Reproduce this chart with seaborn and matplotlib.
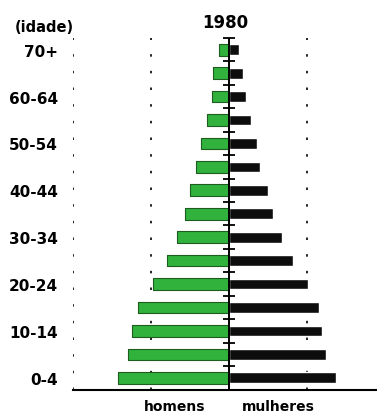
import numpy as np
import pandas as pd
import matplotlib
matplotlib.use("Agg")
import matplotlib.pyplot as plt
import seaborn as sns

# faixas etarias (de cima para baixo)
ages = ["70+", "65-69", "60-64", "55-59", "50-54", "45-49", "40-44", "35-39",
        "30-34", "25-29", "20-24", "15-19", "10-14", "5-9", "0-4"]
# % da populacao, 1980
homens = [0.65, 1.0, 1.1, 1.4, 1.8, 2.1, 2.5, 2.8, 3.3, 4.0, 4.9, 5.8, 6.2, 6.5, 7.1]
mulheres = [0.65, 0.9, 1.1, 1.4, 1.8, 2.0, 2.5, 2.8, 3.4, 4.1, 5.1, 5.8, 6.0, 6.2, 6.9]
xticks = [-10, -5, 0, 5]
year = "1980"

df = pd.DataFrame({"idade": ages, "homens": homens, "mulheres": mulheres})
df["homens_neg"] = -df["homens"]

sns.set_style("white")
plt.rcParams["font.family"] = ["DejaVu Sans"]
plt.rcParams["text.color"] = "black"
plt.rcParams["axes.labelcolor"] = "black"
plt.rcParams["xtick.color"] = "black"
plt.rcParams["ytick.color"] = "black"

fig = plt.figure(figsize=(3.77, 4.14), dpi=100)
ax = fig.add_axes([73 / 377, 23 / 414, 1 - 73 / 377, (391 - 39) / 414])

sns.barplot(data=df, x="homens_neg", y="idade", order=ages, orient="h",
            color="#30b23c", saturation=1, width=0.5, ax=ax,
            edgecolor="#1f5c1f", linewidth=0.8)
sns.barplot(data=df, x="mulheres", y="idade", order=ages, orient="h",
            color="#0d0d0d", saturation=1, width=0.46, ax=ax)
for p in ax.patches:
    p.set_joinstyle("round")

ax.set_xlim(-10, 9.5)
ax.set_ylim(len(ages) - 0.48, -0.5)

# linhas pontilhadas
for xv in xticks:
    if xv != 0:
        ax.axvline(xv, color="black", lw=1.2, ls=(0, (1.5, 8.5)), zorder=0)

# eixo central com marcas entre as faixas
ax.axvline(0, color="black", lw=1.4, zorder=5)
ax.plot(np.zeros(len(ages) + 1), np.arange(len(ages) + 1) - 0.5, ls="none",
        marker="_", ms=8, mew=1.3, color="black", clip_on=False, zorder=6)

ax.set_xticks(xticks)
ax.set_xticklabels([])
ax.tick_params(axis="x", direction="out", length=5, width=1.4, color="black")
ax.set_yticks(range(0, len(ages), 2))
ax.set_yticklabels(ages[::2], fontsize=11, fontweight="bold", color="black")
ax.tick_params(axis="y", length=0, pad=11)
ax.set_xlabel("")
ax.set_ylabel("")

for s in ["top", "right", "left"]:
    ax.spines[s].set_visible(False)
ax.spines["bottom"].set_color("black")
ax.spines["bottom"].set_linewidth(1.5)

ax.set_title(year, fontsize=12, fontweight="bold", pad=8, color="black")
fig.text(15 / 377, 1 - 27 / 414, "(idade)", fontsize=10.5, fontweight="bold",
         ha="left", va="center", color="black")
fig.text(175 / 377, 1 - 400 / 414, "homens", fontsize=10, fontweight="bold",
         ha="center", va="top", color="black")
fig.text(278 / 377, 1 - 400 / 414, "mulheres", fontsize=10, fontweight="bold",
         ha="center", va="top", color="black")

fig.savefig("out.png", dpi=100)
